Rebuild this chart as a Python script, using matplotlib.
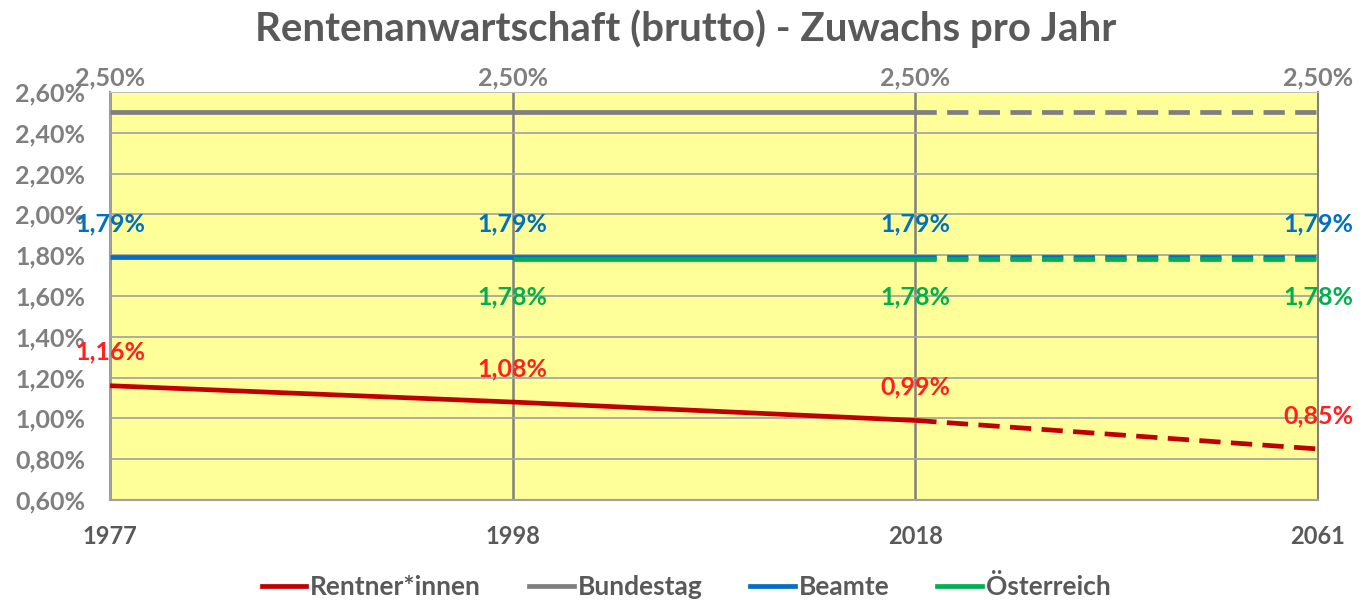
import matplotlib.pyplot as plt
import numpy as np

years = ['1977', '1998', '2018', '2061']
rentner = [1.16, 1.08, 0.99, 0.85]
bundestag = [2.50, 2.50, 2.50, 2.50]
beamte = [1.79, 1.79, 1.79, 1.79]
oesterreich = [None, 1.78, 1.78, 1.78]
yticks = [0.6, 0.8, 1.0, 1.2, 1.4, 1.6, 1.8, 2.0, 2.2, 2.4, 2.6]

plt.rcParams['font.family'] = ['Lato', 'DejaVu Sans']
plt.rcParams['font.weight'] = 'bold'

fig = plt.figure(figsize=(13.72, 6.05), dpi=100)
ax = fig.add_axes([0.0802, 0.1736, 0.8804, 0.6744])
ax.set_facecolor('#FFFF99')

x = np.arange(len(years))
dash = (0, (4.5, 2.2))
lw = 3.4

def draw(vals, col, lab, lab_col, off, start=0):
    xs = x[start:]
    ys = np.array(vals[start:], dtype=float)
    solid = xs <= 2
    ax.plot(xs[solid], ys[solid], color=col, lw=lw, solid_capstyle='butt', zorder=3)
    ax.plot(xs[-2:], ys[-2:], color=col, lw=lw, ls=dash, zorder=3)
    h, = ax.plot([], [], color=col, lw=lw, label=lab)
    for xi, yi in zip(xs, ys):
        ax.annotate(f'{yi:.2f}%'.replace('.', ','), (xi, yi), xytext=(0, off),
                    textcoords='offset points', ha='center', va='center',
                    color=lab_col, fontsize=18, fontweight='bold', zorder=5,
                    annotation_clip=False)
    return h

h1 = draw(rentner, '#C00000', 'Rentner*innen', '#FF2020', 24)
h2 = draw(bundestag, '#7F7F7F', 'Bundestag', '#7F7F7F', 25)
h3 = draw(beamte, '#0070C0', 'Beamte', '#0070C0', 24)
h4 = draw(oesterreich, '#00B050', 'Österreich', '#00B050', -27, start=1)

ax.set_xlim(0, 3)
ax.set_ylim(0.6, 2.6)
ax.set_yticks(yticks)
ax.set_yticklabels([f'{v:.2f}%'.replace('.', ',') for v in yticks],
                   fontsize=18, color='#7F7F7F', fontweight='bold')
ax.set_xticks(x)
ax.set_xticklabels(years, fontsize=17, color='#595959', fontweight='bold')
ax.tick_params(axis='y', length=0, pad=18)
ax.tick_params(axis='x', length=0, pad=18)

ax.grid(axis='y', color='#A6A6A6', lw=1.3, zorder=1)
ax.grid(axis='x', color='#808080', lw=1.8, zorder=1)
ax.set_axisbelow(True)
for s in ['left', 'right', 'bottom']:
    ax.spines[s].set_color('#A0A0A0')
    ax.spines[s].set_linewidth(1.5)
ax.spines['top'].set_color('#BFBFBF')
ax.spines['right'].set_color('#808080')

fig.suptitle('Rentenanwartschaft (brutto) - Zuwachs pro Jahr', y=0.985,
             fontsize=29, fontweight='bold', color='#595959')

fig.legend(handles=[h1, h2, h3, h4], loc='lower center', ncol=4,
           bbox_to_anchor=(0.5, -0.03), frameon=False, fontsize=19,
           labelcolor='#595959', handlelength=1.7, handletextpad=0.15,
           columnspacing=1.8)

fig.savefig('out.png', dpi=100)
